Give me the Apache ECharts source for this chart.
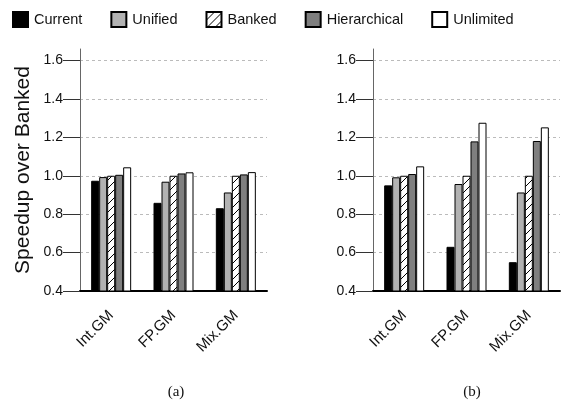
<!DOCTYPE html>
<html><head><meta charset="utf-8">
<script src="https://cdn.jsdelivr.net/npm/echarts@6/dist/echarts.min.js"></script>
<style>html,body{margin:0;padding:0;background:#fff}#c{width:587px;height:404px}</style>
</head><body><div id="c"></div>
<script>
const categories = ['Int.GM', 'FP.GM', 'Mix.GM'];
const seriesNames = ['Current', 'Unified', 'Banked', 'Hierarchical', 'Unlimited'];
const yTicks = [0.4, 0.6, 0.8, 1.0, 1.2, 1.4, 1.6];
const panelTitles = ['(a)', '(b)'];
// panel (a)
const aCurrent = [0.974, 0.859, 0.831];
const aUnified = [0.993, 0.969, 0.913];
const aBanked = [1.0, 1.0, 1.0];
const aHierarchical = [1.005, 1.012, 1.007];
const aUnlimited = [1.044, 1.018, 1.019];
// panel (b)
const bCurrent = [0.95, 0.63, 0.55];
const bUnified = [0.992, 0.957, 0.913];
const bBanked = [1.0, 1.0, 1.0];
const bHierarchical = [1.009, 1.179, 1.181];
const bUnlimited = [1.049, 1.276, 1.252];

const panelData = [
  [aCurrent, aUnified, aBanked, aHierarchical, aUnlimited],
  [bCurrent, bUnified, bBanked, bHierarchical, bUnlimited]
];

function hatch() {
  const c = document.createElement('canvas');
  c.width = 8; c.height = 8;
  const g = c.getContext('2d');
  g.fillStyle = '#fff'; g.fillRect(0, 0, 8, 8);
  g.strokeStyle = '#000'; g.lineWidth = 1;
  g.beginPath();
  g.moveTo(-1, 9); g.lineTo(9, -1);
  g.moveTo(-1, 1); g.lineTo(1, -1);
  g.moveTo(7, 9); g.lineTo(9, 7);
  g.stroke();
  return { image: c, repeat: 'repeat' };
}
const fills = ['#000000', '#b2b2b2', hatch(), '#7f7f7f', '#ffffff'];

const font = 'Liberation Sans';
const grids = [
  { left: 80, width: 187, top: 49, bottom: 113 },
  { left: 373, width: 187, top: 49, bottom: 113 }
];
const xAxes = [], yAxes = [], series = [];
for (let p = 0; p < 2; p++) {
  xAxes.push({
    type: 'category', gridIndex: p, data: categories,
    axisLine: { lineStyle: { color: '#000', width: 2 } },
    axisTick: { alignWithLabel: true, length: 16, lineStyle: { color: '#444', width: 1 } },
    axisLabel: { rotate: 45, fontSize: 15, fontFamily: font, color: '#111', margin: 22 }
  });
  yAxes.push({
    type: 'value', gridIndex: p, min: 0.4, max: 1.66, interval: 0.2,
    name: p === 0 ? 'Speedup over Banked' : '',
    nameLocation: 'middle', nameGap: 46,
    nameTextStyle: { fontSize: 21, fontFamily: font, color: '#111' },
    axisLine: { show: true, lineStyle: { color: '#666', width: 1 } },
    axisTick: { show: true, length: 17, customValues: yTicks, lineStyle: { color: '#333' } },
    axisLabel: { fontSize: 14, fontFamily: font, color: '#111', margin: 17, customValues: yTicks,
      formatter: v => v.toFixed(1) },
    splitLine: { show: true, lineStyle: { type: [3, 3], color: '#bbb', width: 1 } }
  });
  for (let s = 0; s < 5; s++) {
    series.push({
      type: 'bar', name: seriesNames[s], xAxisIndex: p, yAxisIndex: p,
      data: panelData[p][s], barWidth: 8, barGap: '0%',
      itemStyle: { color: fills[s], borderColor: '#000', borderWidth: 1 },
      emphasis: { disabled: true }, animation: false
    });
  }
}

const chart = echarts.init(document.getElementById('c'), null, { renderer: 'canvas' });
chart.setOption({
  animation: false,
  textStyle: { fontFamily: font },
  legend: {
    data: seriesNames, left: 12, top: 11, padding: 0, itemWidth: 15, itemHeight: 15, itemGap: 28,
    icon: 'rect',
    textStyle: { fontSize: 14.5, fontFamily: font, color: '#111', padding: [0, 0, 0, 1] }
  },
  title: panelTitles.map((t, i) => ({
    text: t, left: i === 0 ? 171 : 467, top: 380, textAlign: 'center',
    textStyle: { fontSize: 15, fontWeight: 'normal', fontFamily: 'Liberation Serif', color: '#111' }
  })),
  grid: grids, xAxis: xAxes, yAxis: yAxes, series: series
});
</script></body></html>
